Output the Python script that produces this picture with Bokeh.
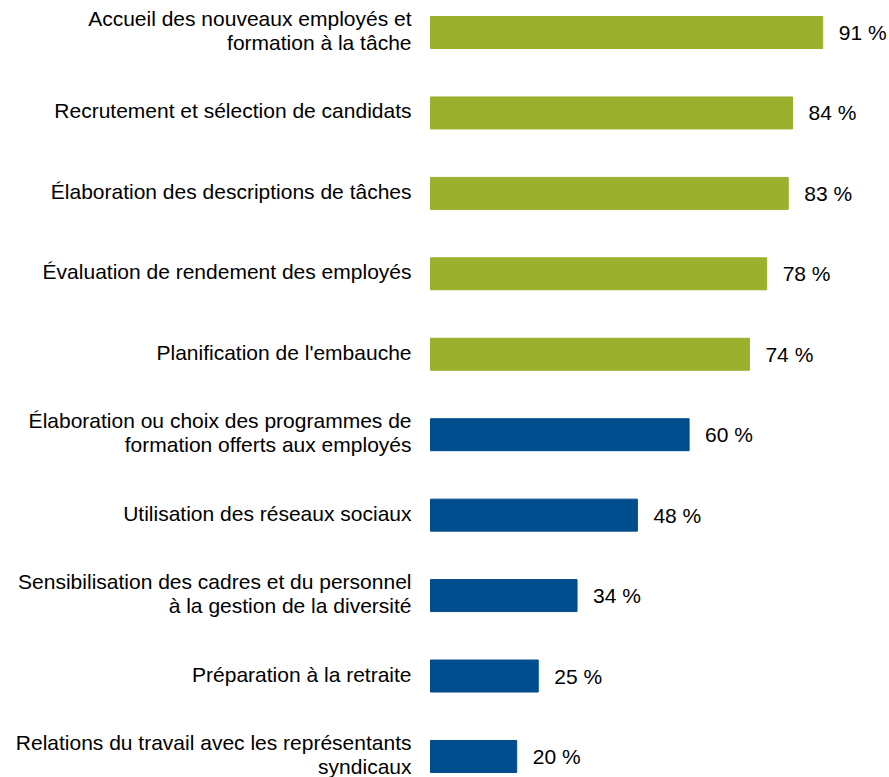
from bokeh.plotting import figure
from bokeh.models import Range1d, ColumnDataSource
from bokeh.core.properties import value
from bokeh.embed import file_html
from bokeh.resources import INLINE

categories = [
    "Accueil des nouveaux employés et\nformation à la tâche",
    "Recrutement et sélection de candidats",
    "Élaboration des descriptions de tâches",
    "Évaluation de rendement des employés",
    "Planification de l'embauche",
    "Élaboration ou choix des programmes de\nformation offerts aux employés",
    "Utilisation des réseaux sociaux",
    "Sensibilisation des cadres et du personnel\nà la gestion de la diversité",
    "Préparation à la retraite",
    "Relations du travail avec les représentants\nsyndicaux",
]
values = [91, 84, 83, 78, 74, 60, 48, 34, 25, 20]
groups = ["top", "top", "top", "top", "top", "other", "other", "other", "other", "other"]

GREEN = "#9BB02C"
BLUE = "#004D8D"
colors = [GREEN if g == "top" else BLUE for g in groups]

W, H = 889, 777
px_per_unit = 4.31
bar_left_px = 430
row_px = 80.44
first_center_px = 32

x0 = -bar_left_px / px_per_unit
x1 = (W - bar_left_px) / px_per_unit
y_top = -first_center_px / row_px
y_bot = (H - first_center_px) / row_px

src = ColumnDataSource(dict(
    y=list(range(len(values))),
    v=values,
    cat=categories,
    lab=[f"{v} %" for v in values],
    color=colors,
))

p = figure(width=W, height=H, output_backend="svg", toolbar_location=None,
           x_range=Range1d(x0, x1), y_range=Range1d(y_bot, y_top),
           min_border=0, min_border_left=0, min_border_right=0,
           min_border_top=0, min_border_bottom=0)
p.axis.visible = False
p.grid.visible = False
p.outline_line_color = None
p.background_fill_color = "white"

p.hbar(y="y", left=0, right="v", height=32 / row_px, color="color", source=src)

p.text(x=0, y="y", text="cat", source=src, x_offset=-19, y_offset=-2,
       text_align="right", text_baseline="middle",
       text_font=value("Liberation Sans"), text_font_size="21px",
       text_color="#000000", text_line_height=1.05)
p.text(x="v", y="y", text="lab", source=src, x_offset=16,
       text_align="left", text_baseline="middle",
       text_font=value("Liberation Sans"), text_font_size="21px",
       text_color="#000000")

open("out.html", "w").write(file_html(p, INLINE))
